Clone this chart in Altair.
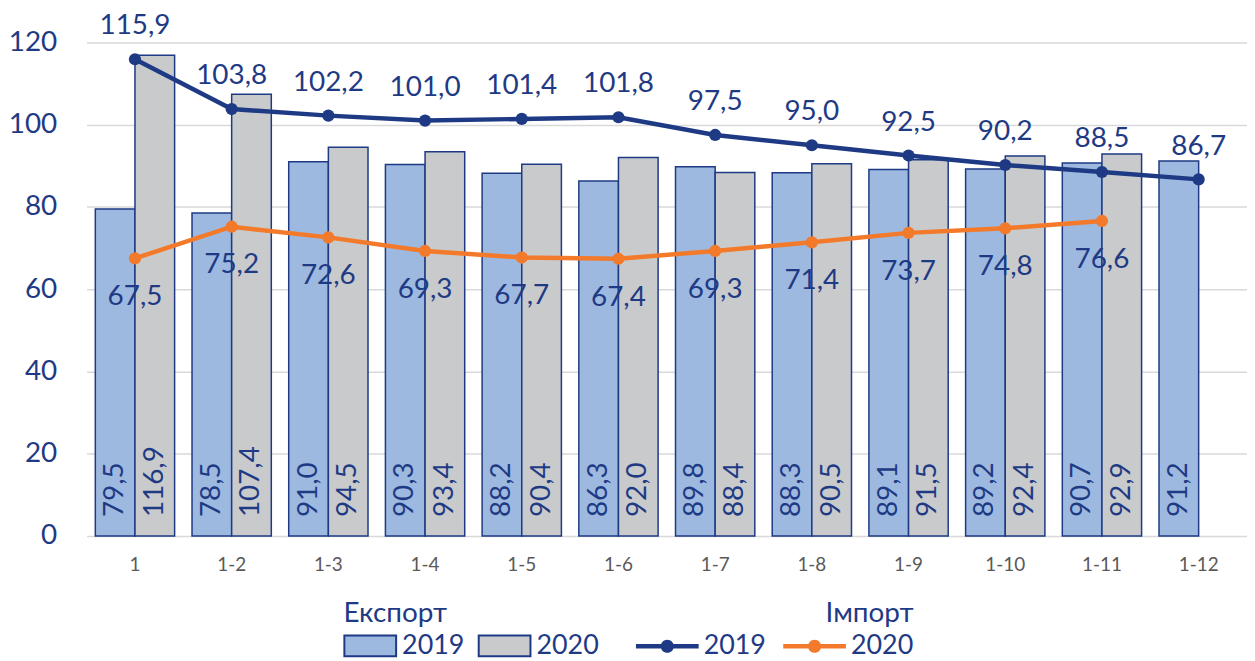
import altair as alt
import pandas as pd

categories = ["1", "1-2", "1-3", "1-4", "1-5", "1-6", "1-7", "1-8", "1-9", "1-10", "1-11", "1-12"]
years = ["2019", "2020"]
export_2019 = [79.5, 78.5, 91.0, 90.3, 88.2, 86.3, 89.8, 88.3, 89.1, 89.2, 90.7, 91.2]
export_2020 = [116.9, 107.4, 94.5, 93.4, 90.4, 92.0, 88.4, 90.5, 91.5, 92.4, 92.9, None]
import_2019 = [115.9, 103.8, 102.2, 101.0, 101.4, 101.8, 97.5, 95.0, 92.5, 90.2, 88.5, 86.7]
import_2020 = [67.5, 75.2, 72.6, 69.3, 67.7, 67.4, 69.3, 71.4, 73.7, 74.8, 76.6, None]
y_ticks = [0, 20, 40, 60, 80, 100, 120]

NAVY = "#1F3A84"
BLUE = "#9DB9E0"
GREY = "#C9CACC"
ORANGE = "#F37A2A"
FONT = "Lato, Open Sans, sans-serif"
BIG = 28
LEG = 27


def fmt(v):
    return f"{v:.1f}".replace(".", ",")


def to_rows(a_list, b_list):
    rows = []
    for c, a, b in zip(categories, a_list, b_list):
        for yr, v in (("2019", a), ("2020", b)):
            if v is not None:
                rows.append({"cat": c, "year": yr, "value": v, "label": fmt(v)})
    return pd.DataFrame(rows)


exp_df = to_rows(export_2019, export_2020)
imp_df = to_rows(import_2019, import_2020)

x = alt.X(
    "cat:N",
    sort=categories,
    scale=alt.Scale(domain=categories, paddingInner=0.18, paddingOuter=0.09),
    axis=alt.Axis(title=None, labelFontSize=19, labelColor="#595959", ticks=False,
                  domain=False, labelPadding=20, labelAngle=0, labelFont=FONT),
)
y = alt.Y(
    "value:Q",
    scale=alt.Scale(domain=[0, 120], nice=False),
    axis=alt.Axis(title=None, values=y_ticks, labelFontSize=BIG, labelColor=NAVY, ticks=False,
                  domain=False, labelPadding=30, gridColor="#D9D9D9", gridWidth=1.5,
                  labelFont=FONT),
)
xoff = alt.XOffset("year:N", scale=alt.Scale(domain=years, paddingInner=0, paddingOuter=0))

bar_legend = alt.Legend(
    title="Експорт", orient="none", legendX=258, legendY=560, direction="horizontal",
    titleAnchor="start", titleFontSize=BIG, titleColor=NAVY, titleFontWeight="normal",
    titleFont=FONT, labelFont=FONT, labelFontSize=LEG, labelColor=NAVY,
    symbolType="M-1,-0.4H1V0.4H-1Z", symbolSize=2704, symbolStrokeColor=NAVY,
    symbolStrokeWidth=2, labelOffset=5, columnPadding=10, padding=0, titlePadding=-9,
)

line_legend = alt.Legend(
    title="Імпорт", orient="none", legendX=552, legendY=560, direction="horizontal",
    titleAnchor="end", titleFontSize=BIG, titleColor=NAVY, titleFontWeight="normal",
    titleFont=FONT, labelFont=FONT, labelFontSize=LEG, labelColor=NAVY,
    symbolType="M-1,-0.07H1V0.07H-1Z M-0.21,0A0.21,0.21 0 1,1 0.21,0A0.21,0.21 0 1,1 -0.21,0Z",
    symbolSize=3969, symbolStrokeWidth=0, labelOffset=5, columnPadding=17, padding=0,
    titlePadding=-13,
)

bars = alt.Chart(exp_df).mark_bar(stroke=NAVY, strokeWidth=1.5).encode(
    x=x, xOffset=xoff, y=y,
    color=alt.Color("year:N", scale=alt.Scale(domain=years, range=[BLUE, GREY]), legend=bar_legend),
)

bar_text = alt.Chart(exp_df).mark_text(
    angle=270, align="left", baseline="middle", dx=19, fontSize=BIG, color=NAVY, font=FONT
).encode(x=x, xOffset=xoff, y=alt.datum(0), text="label:N")

lines = alt.Chart(imp_df).mark_line(strokeWidth=4.5).encode(
    x=x, y=y,
    color=alt.Color("year:N", scale=alt.Scale(domain=years, range=[NAVY, ORANGE]), legend=None),
)

points = alt.Chart(imp_df).mark_circle(size=150, opacity=1).encode(
    x=x, y=y,
    color=alt.Color("year:N", scale=alt.Scale(domain=years, range=[NAVY, ORANGE]), legend=line_legend),
)

text_2019 = alt.Chart(imp_df).transform_filter(alt.datum.year == "2019").mark_text(
    dy=-33, fontSize=BIG, color=NAVY, font=FONT, baseline="middle"
).encode(x=x, y=y, text="label:N")

text_2020 = alt.Chart(imp_df).transform_filter(alt.datum.year == "2020").mark_text(
    dy=39, fontSize=BIG, color=NAVY, font=FONT, baseline="middle"
).encode(x=x, y=y, text="label:N")

chart = alt.layer(bars, bar_text, lines, points, text_2019, text_2020).resolve_scale(
    color="independent"
).properties(
    width=1166, height=496,
    autosize=alt.AutoSizeParams(type="none"),
    padding={"left": 79, "top": 33, "right": 0, "bottom": 124},
).configure_view(stroke=None)

chart.save("out.html", embed_options={"renderer": "svg", "actions": False})
